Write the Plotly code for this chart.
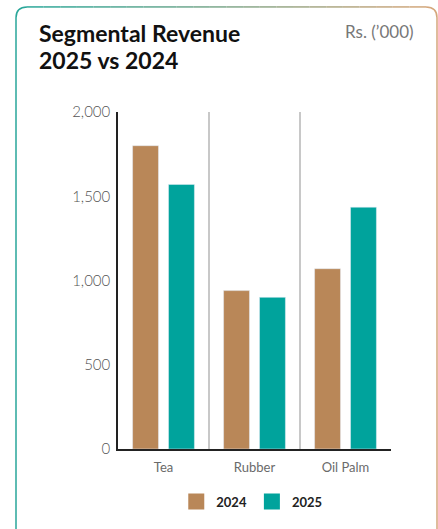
import plotly.graph_objects as go

categories = ["Tea", "Rubber", "Oil Palm"]
rev_2024 = [1800, 940, 1070]
rev_2025 = [1570, 900, 1435]
y_ticks = [0, 500, 1000, 1500, 2000]
y_tick_labels = ["0", "500", "1,000", "1,500", "2,000"]

TAN = "#B98758"
TEAL = "#00A39C"
W, H = 438, 529
ML, MR, MT, MB = 118, 47, 112, 77
PW, PH = W - ML - MR, H - MT - MB


def px(x):
    return (x - ML) / PW


def py(y):
    return (H - MB - y) / PH


fig = go.Figure()
fig.add_trace(go.Bar(x=categories, y=rev_2024, name="2024", marker_color=TAN, showlegend=False))
fig.add_trace(go.Bar(x=categories, y=rev_2025, name="2025", marker_color=TEAL, showlegend=False))
for name, col in [("2024", TAN), ("2025", TEAL)]:
    fig.add_trace(go.Scatter(x=[None], y=[None], mode="markers", name=name,
                             marker=dict(symbol="square", size=16, color=col)))

shapes = []
# card border
L, T, R, B, r = 16, 6, 437, 560, 11
shapes.append(dict(type="path", xref="paper", yref="paper",
                   path=f"M{px(L)},{py(B)} L{px(L)},{py(T + r)} Q{px(L)},{py(T)} {px(L + r)},{py(T)}",
                   line=dict(color="#2AA79A", width=1.5)))
shapes.append(dict(type="path", xref="paper", yref="paper",
                   path=f"M{px(R - r)},{py(T)} Q{px(R)},{py(T)} {px(R)},{py(T + r)} L{px(R)},{py(B)}",
                   line=dict(color="#D5A77C", width=1.5)))
n = 24
c0 = (0x2A, 0xA7, 0x9A)
c1 = (0xD5, 0xA7, 0x7C)
for i in range(n):
    x0 = L + r + (R - L - 2 * r) * i / n
    x1 = L + r + (R - L - 2 * r) * (i + 1) / n
    t = (i + 0.5) / n
    c = tuple(int(c0[k] + (c1[k] - c0[k]) * t) for k in range(3))
    shapes.append(dict(type="line", xref="paper", yref="paper", x0=px(x0), x1=px(x1),
                       y0=py(T), y1=py(T), line=dict(color="rgb(%d,%d,%d)" % c, width=1.5)))

fig.update_layout(
    width=W, height=H,
    margin=dict(l=ML, r=MR, t=MT, b=MB),
    paper_bgcolor="white", plot_bgcolor="white",
    barmode="group", bargap=0.21, bargroupgap=0.28,
    font=dict(family="Lato", color="#555555"),
    xaxis=dict(range=[-0.5, 2.5], tickson="boundaries", showgrid=True, gridcolor="#C8C8C8",
               gridwidth=1.5, showline=True, linecolor="#222222", linewidth=1.5, ticks="",
               tickfont=dict(size=13, color="#6a6a6a"), zeroline=False, ticklabelstandoff=6),
    yaxis=dict(range=[0, 2000], tickvals=y_ticks, ticktext=y_tick_labels, showgrid=False,
               showline=True, linecolor="#222222", linewidth=1.5, ticks="", zeroline=False,
               tickfont=dict(size=15, color="#555555", weight=300), ticklabelstandoff=3),
    legend=dict(orientation="h", x=0.49, xanchor="center", y=py(505), yanchor="middle",
                font=dict(size=13, color="#222222", family="Lato", weight="bold"),
                itemwidth=30, tracegroupgap=0),
    shapes=shapes,
    annotations=[
        dict(text="<b>Segmental Revenue</b>", xref="paper", yref="paper",
             x=px(37), y=py(32), xanchor="left", yanchor="middle", showarrow=False, align="left",
             font=dict(size=23, color="#111111", family="Lato")),
        dict(text="<b>2025 vs 2024</b>", xref="paper", yref="paper",
             x=px(37), y=py(60), xanchor="left", yanchor="middle", showarrow=False, align="left",
             font=dict(size=23, color="#111111", family="Lato")),
        dict(text="Rs. (’000)", xref="paper", yref="paper", x=px(416), y=py(31),
             xanchor="right", yanchor="middle", showarrow=False,
             font=dict(size=17, color="#777777", family="Lato", weight=400)),
    ],
)

fig.write_html("out.html", config={"displayModeBar": False},
               post_script="document.body.style.margin='0';")
